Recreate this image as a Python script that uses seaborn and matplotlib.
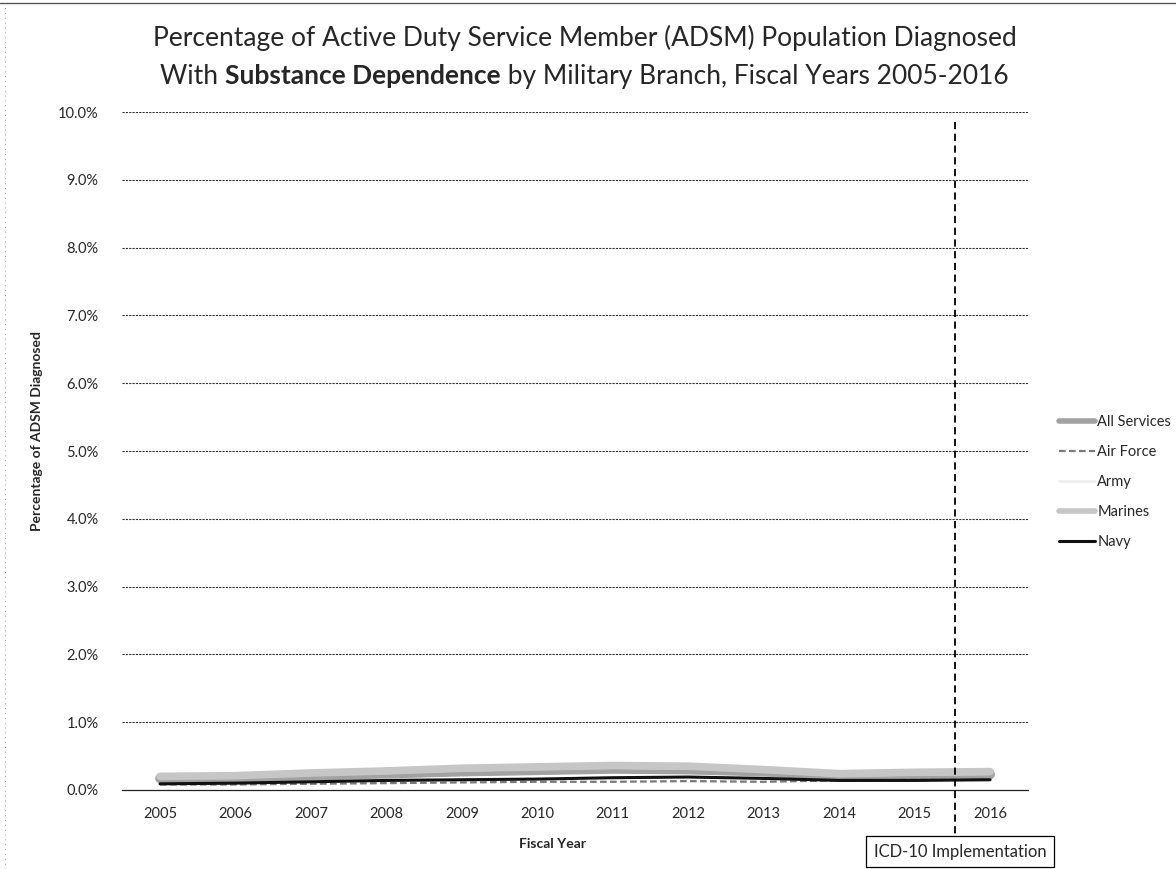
import matplotlib
matplotlib.use("Agg")
import matplotlib.pyplot as plt
from matplotlib.lines import Line2D
import numpy as np
import pandas as pd
import seaborn as sns

# Fiscal-year tick labels (as printed on the axis)
years = ["2005", "2006", "2007", "2008", "2009", "2010",
         "2011", "2012", "2013", "2014", "2015", "2016"]

# Percent of ADSM diagnosed with substance dependence
all_services = [0.17, 0.18, 0.21, 0.24, 0.27, 0.29, 0.31, 0.30, 0.27, 0.20, 0.22, 0.23]
air_force    = [0.08, 0.08, 0.09, 0.10, 0.11, 0.12, 0.12, 0.13, 0.12, 0.14, 0.15, 0.15]
army         = [0.19, 0.20, 0.23, 0.26, 0.29, 0.31, 0.33, 0.32, 0.28, 0.21, 0.23, 0.24]
marines      = [0.20, 0.21, 0.25, 0.28, 0.32, 0.34, 0.36, 0.35, 0.30, 0.24, 0.26, 0.27]
navy         = [0.09, 0.10, 0.12, 0.14, 0.15, 0.16, 0.18, 0.19, 0.17, 0.14, 0.14, 0.15]

series_names = ["All Services", "Air Force", "Army", "Marines", "Navy"]
y_ticks = [0, 1, 2, 3, 4, 5, 6, 7, 8, 9, 10]

rows = []
for name, vals in zip(series_names, [all_services, air_force, army, marines, navy]):
    for i, v in enumerate(vals):
        rows.append({"pos": i, "year": years[i], "branch": name, "pct": v})
df = pd.DataFrame(rows)

sns.set_theme(style="white")
plt.rcParams["font.family"] = ["Lato", "DejaVu Sans"]

styles = {
    "All Services": dict(color="#a2a2a2", lw=7.0, ls="-"),
    "Air Force":    dict(color="#7a7a7a", lw=1.6, ls=(0, (3, 1.5))),
    "Army":         dict(color="#eeeeee", lw=2.0, ls="-"),
    "Marines":      dict(color="#c6c6c6", lw=5.5, ls="-"),
    "Navy":         dict(color="#111111", lw=2.2, ls="-"),
}

fig = plt.figure(figsize=(11.76, 8.69), dpi=100)
ax = fig.add_axes([0.104, 0.091, 0.770, 0.780])

for name in series_names:
    st = styles[name]
    sns.lineplot(data=df[df["branch"] == name], x="pos", y="pct", ax=ax,
                 color=st["color"], linewidth=st["lw"], linestyle=st["ls"],
                 legend=False, zorder=3)

ax.set_xlim(-0.5, len(years) - 0.5)
ax.set_ylim(0, 10)
ax.set_xticks(range(len(years)))
ax.set_xticklabels(years, fontsize=10.5)
ax.set_yticks(y_ticks)
ax.set_yticklabels([f"{t:.1f}%" for t in y_ticks], fontsize=10.5)
ax.tick_params(axis="x", length=0, pad=12)
ax.tick_params(axis="y", length=10, width=0.8, color="#333333", pad=7, direction="out")

for t in y_ticks[1:]:
    ax.axhline(t, color="#333333", lw=0.8, ls=(0, (2, 1)), zorder=1)

for s in ["top", "right"]:
    ax.spines[s].set_visible(False)
ax.spines["bottom"].set_color("#222222")
ax.spines["bottom"].set_linewidth(0.9)
ax.spines["bottom"].set_linestyle((0, (3, 1)))
ax.spines["left"].set_visible(False)

ax.set_xlabel("Fiscal Year", fontsize=10, fontweight="bold")
ax.xaxis.set_label_coords(0.475, -0.071)
ax.set_ylabel("Percentage of ADSM Diagnosed", fontsize=10, fontweight="bold")
ax.yaxis.set_label_coords(-0.088, 0.53)

# ICD-10 implementation marker
ax.plot([10.53, 10.53], [9.85, -0.66], color="black", lw=1.3, ls=(0, (4, 2.5)),
        clip_on=False, zorder=4)
ax.text(10.6, -0.91, "ICD-10 Implementation", fontsize=12, ha="center", va="center",
        bbox=dict(boxstyle="square,pad=0.45", fc="white", ec="black", lw=0.9),
        zorder=5, clip_on=False)

# Legend
handles = [Line2D([0], [0], color=styles[n]["color"], lw=min(styles[n]["lw"], 4),
                  ls=styles[n]["ls"]) for n in series_names]
leg = fig.legend(handles, series_names, loc="center left",
                 bbox_to_anchor=(0.889, 0.445), frameon=False, fontsize=10.5,
                 handlelength=2.5, handletextpad=0.15, labelspacing=1.1)

# Title with bold phrase on the second line
fig.text(0.497, 0.956, "Percentage of Active Duty Service Member (ADSM) Population Diagnosed",
         fontsize=19, ha="center", va="center")
fig.canvas.draw()
renderer = fig.canvas.get_renderer()
parts = [("With ", "normal"), ("Substance Dependence", "bold"),
         (" by Military Branch, Fiscal Years 2005-2016", "normal")]
texts = [fig.text(0, 0.912, p, fontsize=19, fontweight=w, ha="left", va="center")
         for p, w in parts]
widths = [t.get_window_extent(renderer).width / fig.bbox.width for t in texts]
x0 = 0.497 - sum(widths) / 2
for t, w in zip(texts, widths):
    t.set_x(x0)
    x0 += w

# Chart frame: solid top edge, faint dotted left edge
fig.add_artist(Line2D([0.0, 1.0], [0.997, 0.997], color="#555555", lw=1.0,
                      transform=fig.transFigure))
fig.add_artist(Line2D([0.004, 0.004], [0.0, 0.997], color="#999999", lw=0.7,
                      ls=(0, (1, 4)), transform=fig.transFigure))

fig.savefig("out.png", dpi=100, facecolor="white")
